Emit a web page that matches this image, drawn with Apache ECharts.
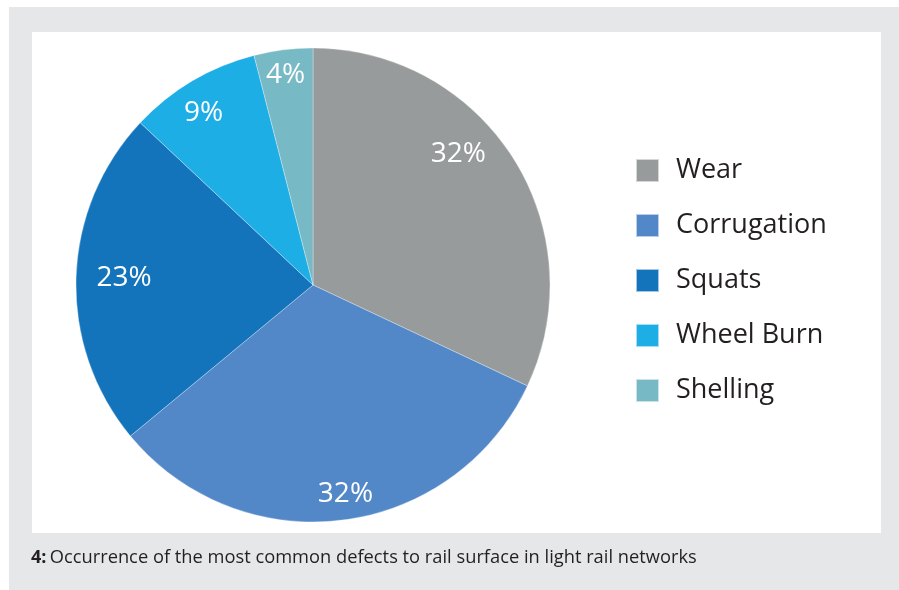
<!DOCTYPE html>
<html><head><meta charset="utf-8">
<script src="https://cdn.jsdelivr.net/npm/echarts@6/dist/echarts.min.js"></script>
<style>html,body{margin:0;padding:0;background:#fff}#c{width:899px;height:590px}</style>
</head><body><div id="c"></div>
<script>
const categories = ['Wear', 'Corrugation', 'Squats', 'Wheel Burn', 'Shelling'];
const values = [32, 32, 23, 9, 4];
const colors = ['#989b9c', '#5388c8', '#1474bb', '#1eaee6', '#78b9c6'];
const caption = 'Occurrence of the most common defects to rail surface in light rail networks';
const labelOffsets = [[-26, -22], [7, 8], [14, -1], [-6, 3], [-2, -9]];

const chart = echarts.init(document.getElementById('c'), null, {renderer: 'canvas'});
const pieData = categories.map((n, i) => ({name: n, value: values[i], itemStyle: {color: colors[i]}}));
const labelData = categories.map((n, i) => ({name: n, value: values[i], label: {offset: labelOffsets[i]}}));
chart.setOption({
  animation: false,
  backgroundColor: '#ffffff',
  graphic: [
    {type: 'rect', left: 9, top: 7, shape: {width: 890, height: 583}, style: {fill: '#e6e7e8'}, z: -10},
    {type: 'rect', left: 32, top: 32, shape: {width: 849, height: 501}, style: {fill: '#ffffff'}, z: -9},
    {type: 'text', left: 31, top: 549, style: {
      text: '{b|4:} {n|' + caption + '}',
      rich: {
        b: {fontFamily: 'Open Sans', fontWeight: 'bold', fontSize: 18, fill: '#231f20'},
        n: {fontFamily: 'Open Sans', fontSize: 18.3, fill: '#231f20'}
      }
    }}
  ],
  legend: {
    orient: 'vertical', left: 635, top: 157, padding: 0,
    icon: 'rect', itemWidth: 23, itemHeight: 23, itemGap: 28,
    selectedMode: false,
    data: categories,
    textStyle: {fontFamily: 'Open Sans', fontSize: 27, color: '#231f20', padding: [0, 0, 0, 12]}
  },
  series: [{
    type: 'pie', center: [313, 285], radius: [0, 237], startAngle: 90, clockwise: true,
    label: {show: false}, labelLine: {show: false}, silent: true,
    itemStyle: {borderColor: 'rgba(255,255,255,0.6)', borderWidth: 0.5},
    data: pieData
  }, {
    type: 'pie', center: [313, 285], radius: [0, 400], startAngle: 90, clockwise: true,
    silent: true, legendHoverLink: false,
    itemStyle: {color: 'rgba(0,0,0,0)'},
    label: {show: true, position: 'inside', formatter: '{c}%', color: '#ffffff', fontFamily: 'Open Sans', fontSize: 28},
    labelLine: {show: false},
    data: labelData
  }]
});
</script></body></html>
